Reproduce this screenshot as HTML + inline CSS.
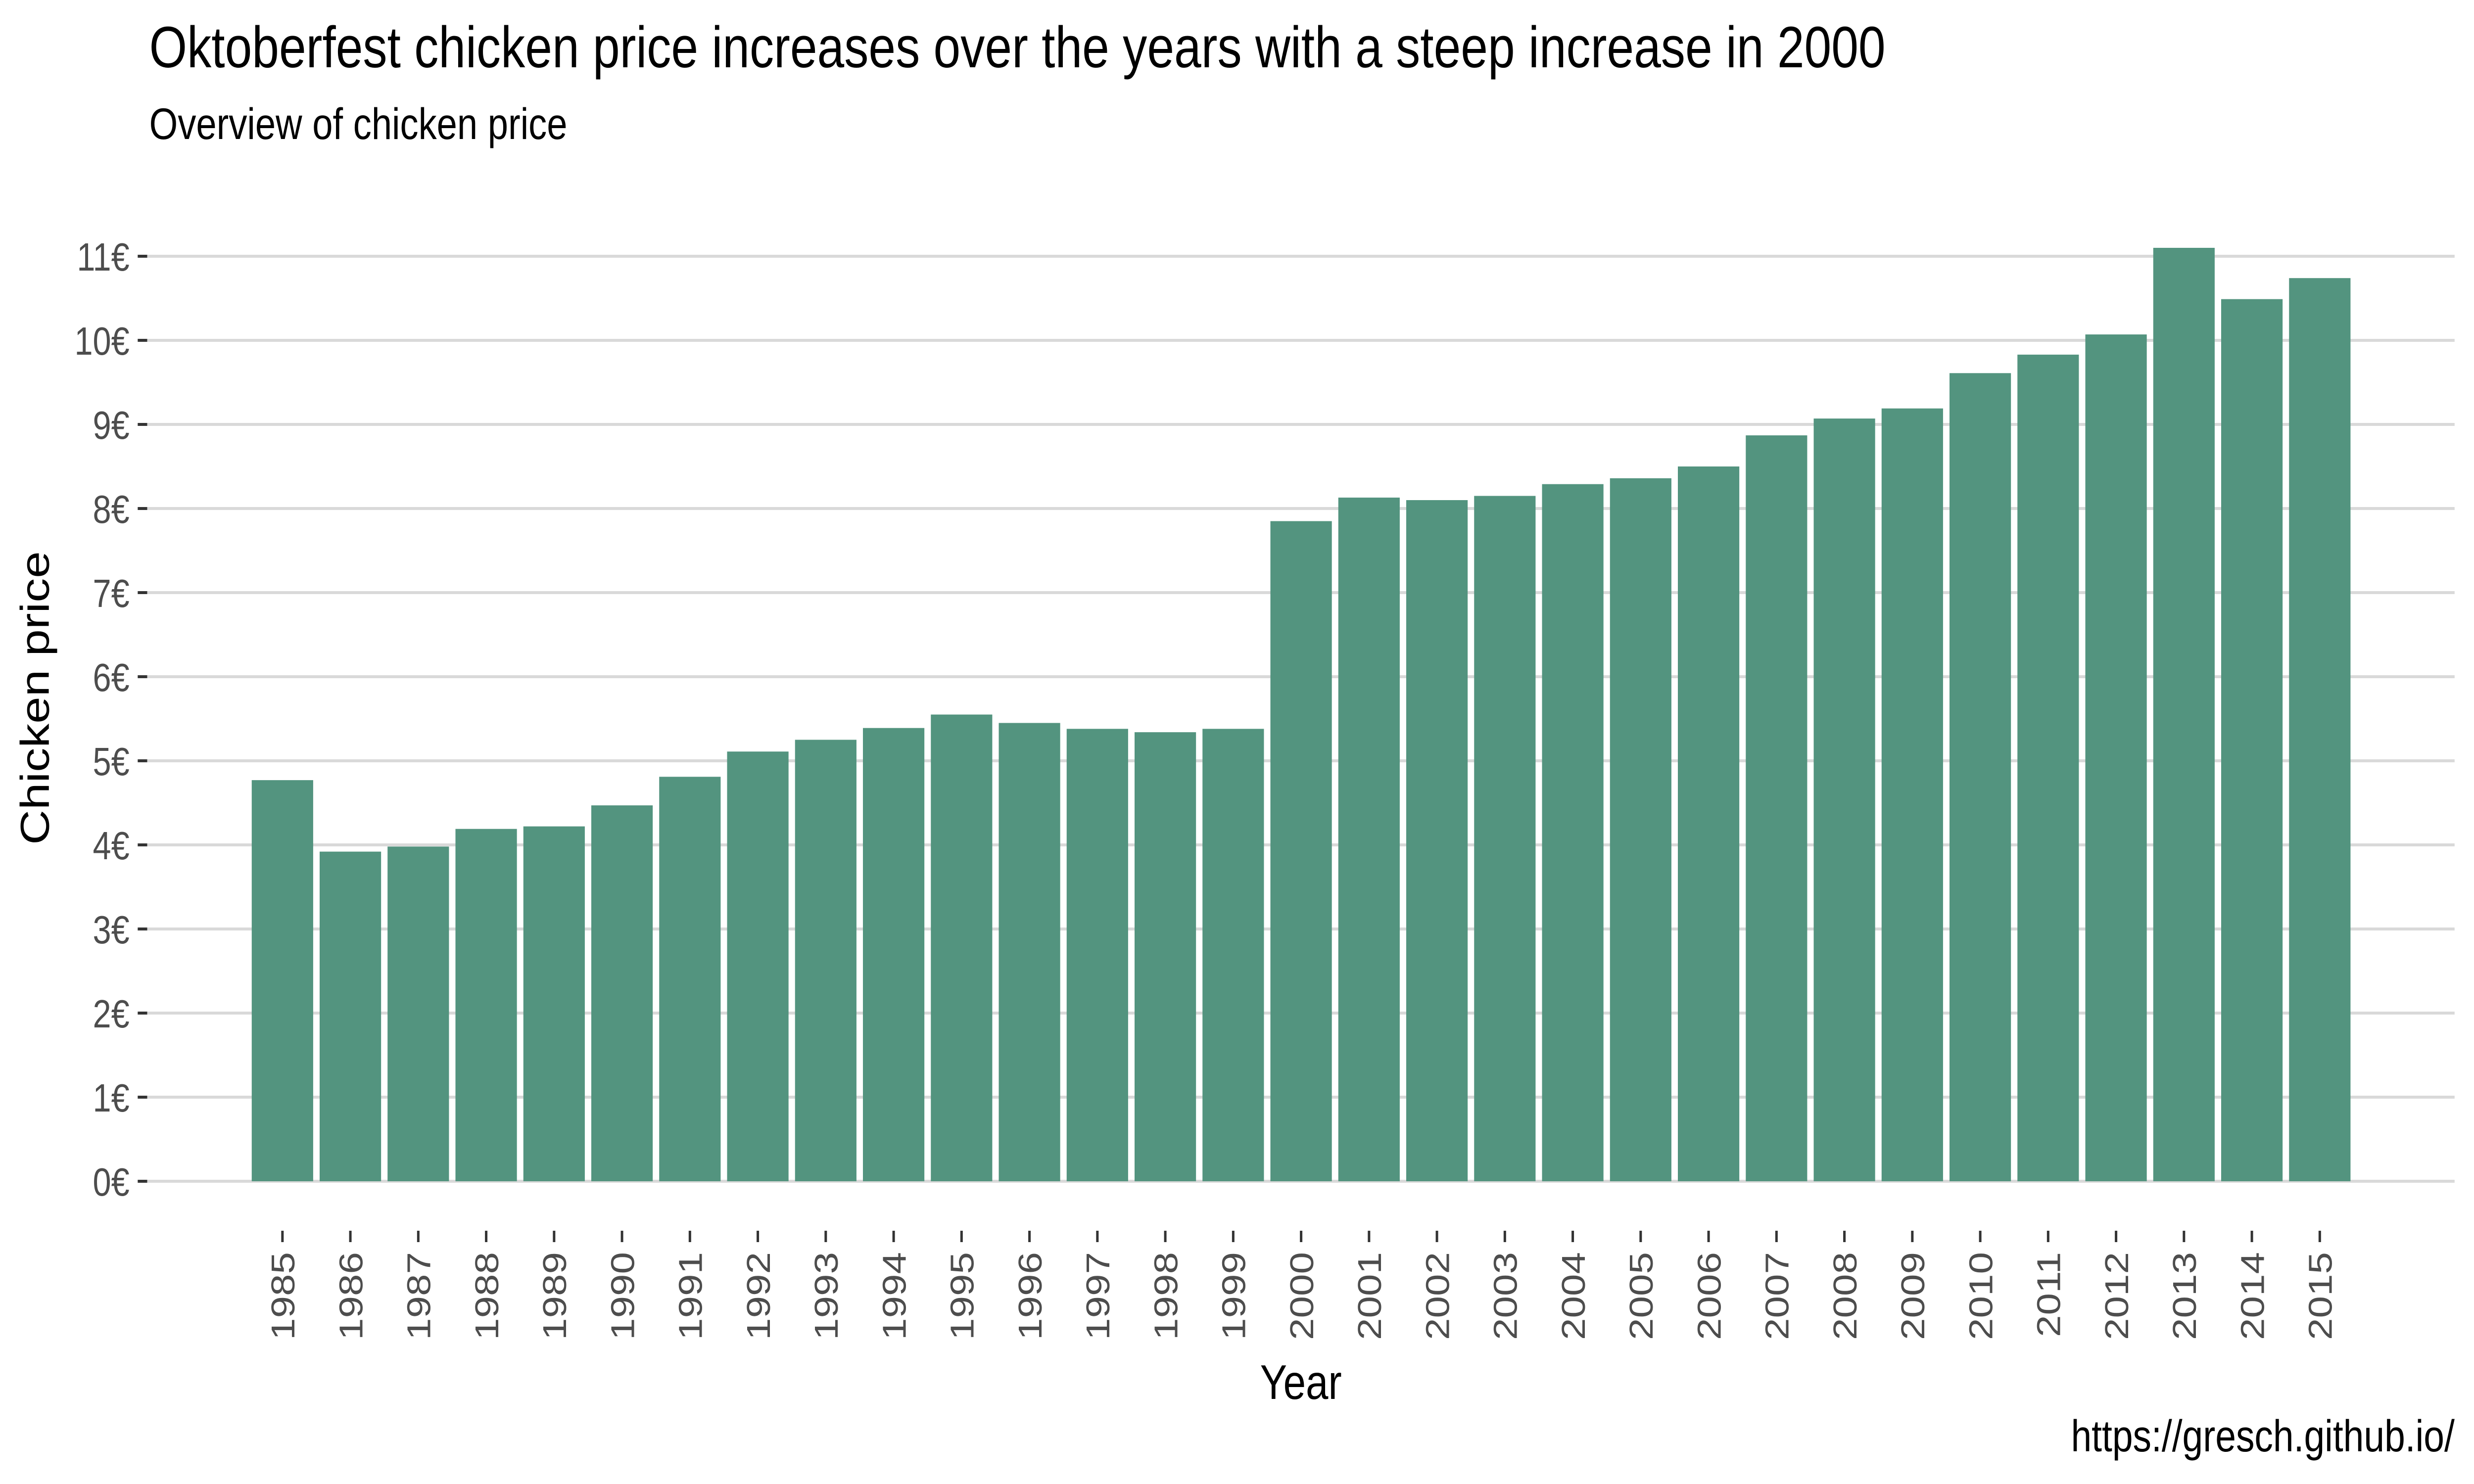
<!DOCTYPE html>
<html><head><meta charset="utf-8"><meta name="viewport" content="width=6000, initial-scale=1">
<style>
html,body{margin:0;padding:0;background:#fff;width:100%;height:100%;overflow:hidden;}
svg{display:block;position:absolute;left:0;top:0;width:100vw;height:100vh;font-family:"Liberation Sans",Arial,sans-serif;}
</style></head><body>
<svg id="chart" viewBox="0 0 6000 3000" preserveAspectRatio="none" xmlns="http://www.w3.org/2000/svg">
<text x="362" y="136" font-size="118" fill="#000">Oktoberfest chicken price increases over the years with a steep increase in 2000</text>
<text x="362" y="281" font-size="89" fill="#000">Overview of chicken price</text>
<g id="grid"></g>
<g id="yaxis"></g>
<g id="bars"></g>
<g id="xaxis"></g>
<text transform="translate(118,1411) rotate(-90)" text-anchor="middle" font-size="98" fill="#000">Chicken price</text>
<text x="3155" y="2828" text-anchor="middle" font-size="98" fill="#000">Year</text>
<text x="5953" y="2934" text-anchor="end" font-size="90" fill="#000">https://gresch.github.io/</text>
</svg>
<script>
const years = [1985,1986,1987,1988,1989,1990,1991,1992,1993,1994,1995,1996,1997,1998,1999,2000,2001,2002,2003,2004,2005,2006,2007,2008,2009,2010,2011,2012,2013,2014,2015];
const prices = [4.77,3.92,3.98,4.19,4.22,4.47,4.81,5.11,5.25,5.39,5.55,5.45,5.38,5.34,5.38,7.85,8.13,8.10,8.15,8.29,8.36,8.50,8.87,9.07,9.19,9.61,9.83,10.07,11.10,10.49,10.74];
const yTicks = [0,1,2,3,4,5,6,7,8,9,10,11];
const yTickLabels = ["0€","1€","2€","3€","4€","5€","6€","7€","8€","9€","10€","11€"];

const NS = "http://www.w3.org/2000/svg";
const panelL = 357, panelR = 5953, y0 = 2388, pxPerUnit = 170;
const firstCenter = 685, pitch = 164.7, barW = 149;
function yScale(v){ return y0 - v * pxPerUnit; }
function xScale(i){ return firstCenter + i * pitch; }
function mk(tag, attrs){ const e = document.createElementNS(NS, tag); for (const k in attrs) e.setAttribute(k, attrs[k]); return e; }

const grid = document.getElementById('grid');
const yaxis = document.getElementById('yaxis');
yTicks.forEach((t, i) => {
  const y = yScale(t);
  const gl = mk('line', {x1: panelL, x2: panelR, y1: y, y2: y, stroke: '#d9d9d9', 'stroke-width': 6});
  
  
  grid.appendChild(gl);
  const tk = mk('line', {x1: 334, x2: 357, y1: y, y2: y, stroke: '#333', 'stroke-width': 6});
  
  
  yaxis.appendChild(tk);
  const lb = mk('text', {x: 314, y: y + 29, 'text-anchor': 'end', 'font-size': 80, fill: '#4d4d4d'});
  lb.textContent = yTickLabels[i];
  
  
  yaxis.appendChild(lb);
});

const bars = document.getElementById('bars');
const xaxis = document.getElementById('xaxis');
years.forEach((yr, i) => {
  const cx = xScale(i);
  const top = yScale(prices[i]);
  const r = mk('rect', {x: cx - barW/2, y: top, width: barW, height: y0 - top, fill: '#53947f'});
  
  
  bars.appendChild(r);
  const tk = mk('line', {x1: cx, x2: cx, y1: 2488, y2: 2511, stroke: '#333', 'stroke-width': 6});
  
  
  xaxis.appendChild(tk);
  const lb = mk('text', {transform: 'translate(' + (cx + 29) + ',2531) rotate(-90)', 'text-anchor': 'end', 'font-size': 80, fill: '#4d4d4d'});
  lb.textContent = yr;
  
  
  xaxis.appendChild(lb);
});
</script>
</body></html>
